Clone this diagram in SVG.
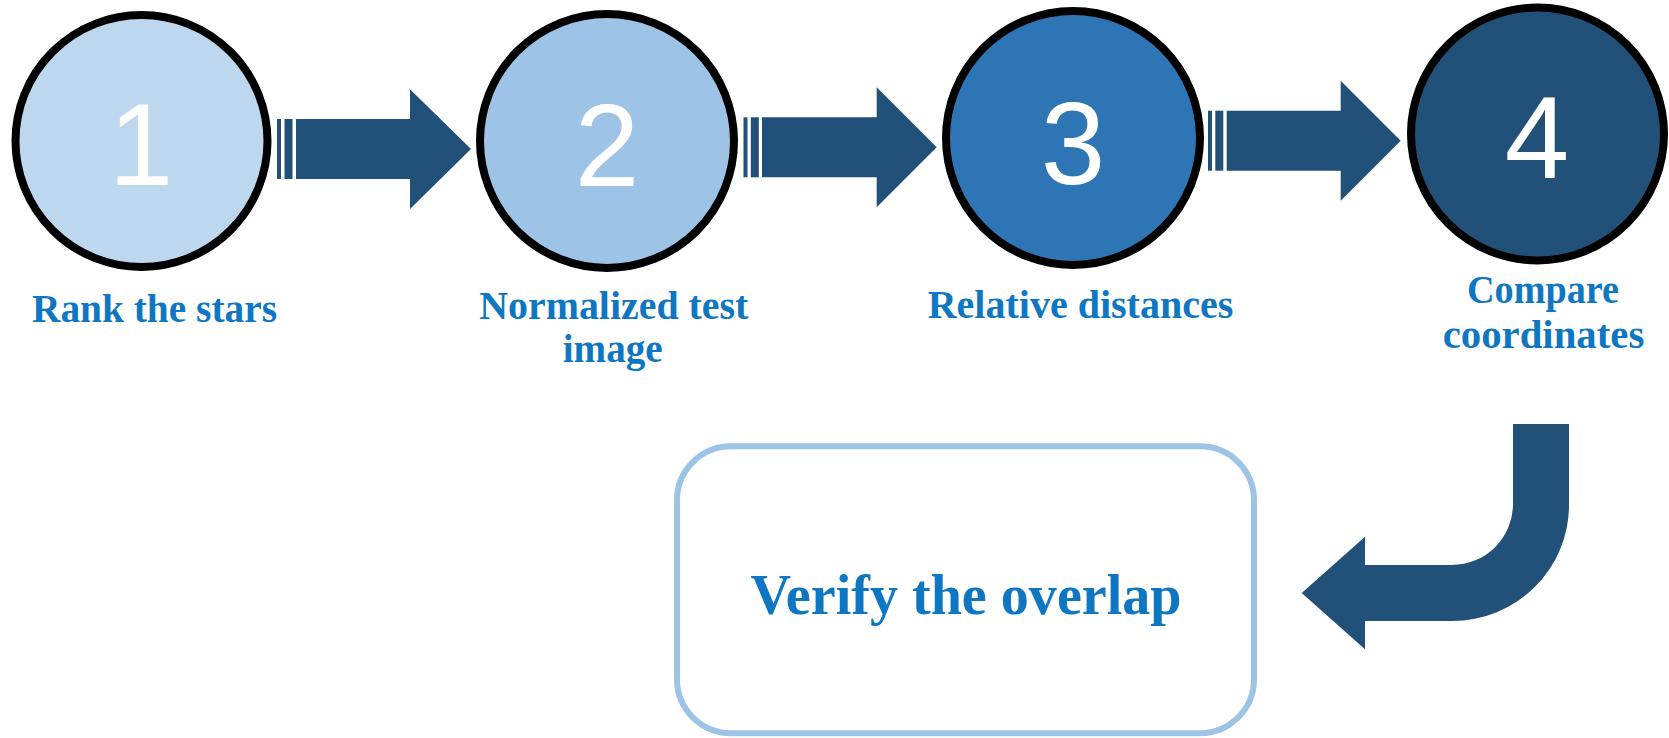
<svg xmlns="http://www.w3.org/2000/svg" width="1669" height="738" viewBox="0 0 1669 738">
  <style>
    .step { stroke: #000000; stroke-width: 8; }
    .num { font-family: "Liberation Sans", Arial, sans-serif; font-size: 116px; fill: #ffffff; text-anchor: middle; }
    .label { font-family: "Liberation Serif", "Times New Roman", serif; font-weight: bold; font-size: 40px; fill: #0F77C2; text-anchor: middle; }
    .big { font-size: 57px; }
    .arrow { fill: #215078; }
    .box { fill: #ffffff; stroke: #9DC3E6; stroke-width: 6; }
  </style>
  <rect width="1669" height="738" fill="#ffffff"/>

  <g id="step1">
    <circle class="step" cx="141.5" cy="141" r="126" fill="#BDD7EE"/>
    <text class="num" x="141" y="185">1</text>
    <text class="label" x="154.5" y="322" textLength="245" lengthAdjust="spacingAndGlyphs">Rank the stars</text>
  </g>

  <g id="step2">
    <circle class="step" cx="607" cy="141" r="127" fill="#9DC3E6"/>
    <text class="num" x="607" y="186">2</text>
    <text class="label" x="613.8" y="319" textLength="269" lengthAdjust="spacingAndGlyphs">Normalized test</text>
    <text class="label" x="612.7" y="362" textLength="100" lengthAdjust="spacingAndGlyphs">image</text>
  </g>

  <g id="step3">
    <circle class="step" cx="1073" cy="138" r="127" fill="#2E75B6"/>
    <text class="num" x="1073" y="184">3</text>
    <text class="label" x="1080.5" y="318.3" textLength="305.6" lengthAdjust="spacingAndGlyphs">Relative distances</text>
  </g>

  <g id="step4">
    <circle class="step" cx="1537.5" cy="134" r="126.5" fill="#215078"/>
    <text class="num" x="1537" y="178">4</text>
    <text class="label" x="1543" y="303.3" textLength="152" lengthAdjust="spacingAndGlyphs">Compare</text>
    <text class="label" x="1543.5" y="348.3" textLength="201.6" lengthAdjust="spacingAndGlyphs">coordinates</text>
  </g>

  <g id="result">
    <rect class="box" x="677" y="446.3" width="577" height="287" rx="54" ry="54"/>
    <text class="label big" x="966" y="614" textLength="431" lengthAdjust="spacingAndGlyphs">Verify the overlap</text>
  </g>

  <g id="connectors">
    <!-- striped block arrows between the steps -->
    <g class="arrow">
      <rect x="277" y="119" width="4" height="60"/>
      <rect x="284.5" y="119" width="8" height="60"/>
      <path d="M296,119 H410 V89.3 L471,149 L410,209 V179 H296 Z"/>

      <rect x="743.5" y="117.3" width="4" height="60"/>
      <rect x="750.8" y="117.3" width="8" height="60"/>
      <path d="M762,117.3 H876.7 V87.3 L936.7,147.3 L876.7,207.3 V177.3 H762 Z"/>

      <rect x="1208" y="110.7" width="4" height="60"/>
      <rect x="1215.3" y="110.7" width="8" height="60"/>
      <path d="M1226.7,110.7 H1340.7 V80.7 L1400.7,140.7 L1340.7,200.7 V170.7 H1226.7 Z"/>

      <!-- bent arrow from step 4 down to the result box -->
      <path d="M1513,424 H1569 V505 A117,116 0 0 1 1452,621 H1365 V649.3 L1301.7,593 L1365,536.7 V565 H1452 A61,61 0 0 0 1513,504 Z"/>
    </g>
  </g>
</svg>
